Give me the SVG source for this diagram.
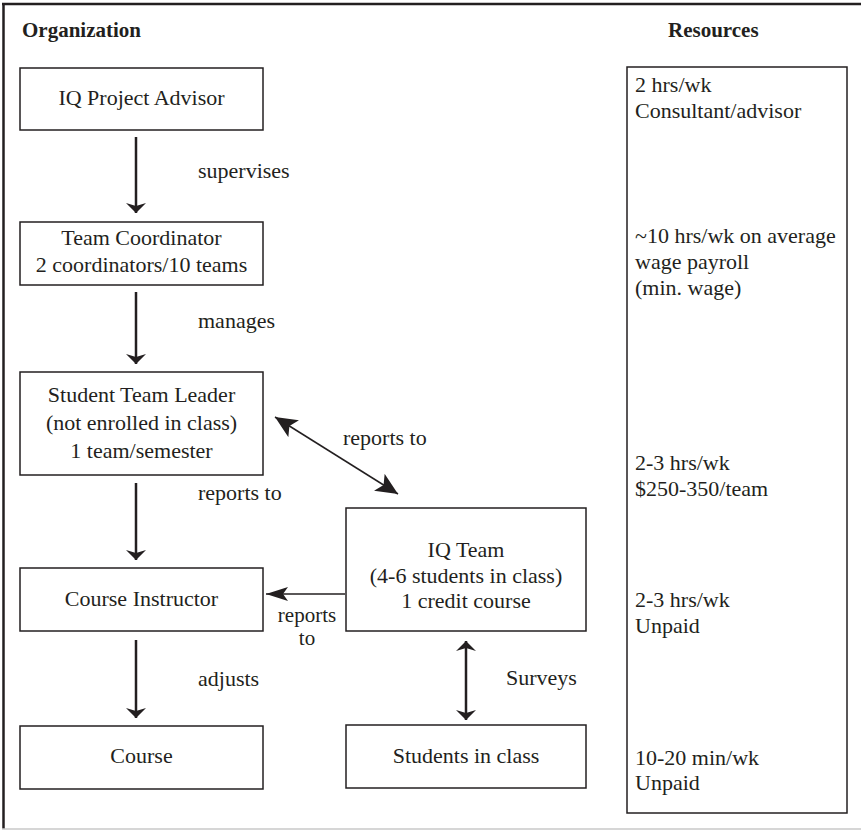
<svg xmlns="http://www.w3.org/2000/svg" width="861" height="830" viewBox="0 0 861 830" font-family="'Liberation Serif', 'DejaVu Serif', serif">
<defs>
<style>
text{font-family:'Liberation Serif','DejaVu Serif',serif;font-size:22px;fill:#231f20}
.b{font-weight:bold;font-size:21px}
.c{text-anchor:middle}
.s{font-size:21px}
.box{fill:#fff;stroke:#231f20;stroke-width:1.5}
.thick{stroke:#231f20;stroke-width:2.5;fill:none}
.thin{stroke:#231f20;stroke-width:1.5;fill:none}
</style>
<marker id="ah" viewBox="0 0 10 20" refX="10" refY="10" markerWidth="10" markerHeight="20" markerUnits="userSpaceOnUse" orient="auto-start-reverse">
<path d="M0,0 L10,10 L0,20 L3,10 Z" fill="#231f20"/>
</marker>
<marker id="aht" viewBox="0 0 22 20" refX="22" refY="10" markerWidth="22" markerHeight="20" markerUnits="userSpaceOnUse" orient="auto-start-reverse">
<path d="M0,0 L22,10 L0,20 L5,10 Z" fill="#231f20"/>
</marker>
<marker id="ahs" viewBox="0 0 22 14" refX="22" refY="7" markerWidth="22" markerHeight="14" markerUnits="userSpaceOnUse" orient="auto-start-reverse">
<path d="M0,0 L22,7 L0,14 L5,7 Z" fill="#231f20"/>
</marker>
</defs>
<rect width="861" height="830" fill="#fff"/>
<g id="frame">
<line x1="3.5" y1="3" x2="3.5" y2="829" stroke="#231f20" stroke-width="2.5"/>
<line x1="2" y1="4" x2="861" y2="4" stroke="#231f20" stroke-width="2.5"/>
<line x1="2" y1="829" x2="861" y2="829" stroke="#c8c8c8" stroke-width="1.5"/>
</g>
<text class="b" x="22" y="37">Organization</text>
<text class="b" x="668" y="37">Resources</text>
<g id="advisor"><rect class="box" x="20" y="68" width="243" height="62"/><text class="c" x="141.5" y="105">IQ Project Advisor</text></g>
<g id="coordinator"><rect class="box" x="20" y="222" width="243" height="63"/><text class="c" x="141.5" y="245">Team Coordinator</text><text class="c" x="141.5" y="272">2 coordinators/10 teams</text></g>
<g id="leader"><rect class="box" x="20" y="372" width="243" height="103"/><text class="c" x="141.5" y="402">Student Team Leader</text><text class="c" x="141.5" y="430">(not enrolled in class)</text><text class="c" x="141.5" y="458">1 team/semester</text></g>
<g id="instructor"><rect class="box" x="20" y="568" width="243" height="63"/><text class="c" x="141.5" y="606">Course Instructor</text></g>
<g id="course"><rect class="box" x="20" y="726" width="243" height="63"/><text class="c" x="141.5" y="763">Course</text></g>
<g id="iqteam"><rect class="box" x="346" y="508" width="240" height="123"/><text class="c" x="466" y="557">IQ Team</text><text class="c" x="466" y="583">(4-6 students in class)</text><text class="c" x="466" y="608">1 credit course</text></g>
<g id="students"><rect class="box" x="346" y="725" width="240" height="63"/><text class="c" x="466" y="763">Students in class</text></g>
<g id="resources"><rect class="box" x="627" y="67" width="220" height="746"/>
<text x="635" y="92">2 hrs/wk</text><text x="635" y="118">Consultant/advisor</text>
<text x="635" y="243">~10 hrs/wk on average</text><text x="635" y="269">wage payroll</text><text x="635" y="295">(min. wage)</text>
<text x="635" y="470">2-3 hrs/wk</text><text x="635" y="496">$250-350/team</text>
<text x="635" y="607">2-3 hrs/wk</text><text x="635" y="633">Unpaid</text>
<text x="635" y="765">10-20 min/wk</text><text x="635" y="790">Unpaid</text>
</g>
<g id="connectors">
<line class="thick" x1="136" y1="137" x2="136" y2="213" marker-end="url(#ah)"/>
<line class="thick" x1="136" y1="292" x2="136" y2="364" marker-end="url(#ah)"/>
<line class="thick" x1="136" y1="483" x2="136" y2="560" marker-end="url(#ah)"/>
<line class="thick" x1="136" y1="640" x2="136" y2="718" marker-end="url(#ah)"/>
<line class="thin" x1="275" y1="417" x2="398" y2="494" marker-start="url(#aht)" marker-end="url(#aht)"/>
<line class="thin" x1="345" y1="594" x2="266" y2="594" marker-end="url(#ahs)"/>
<line class="thick" x1="466" y1="641" x2="466" y2="720" marker-start="url(#ah)" marker-end="url(#ah)"/>
</g>
<g id="labels">
<text x="198" y="178">supervises</text>
<text x="198" y="328">manages</text>
<text x="343" y="445">reports to</text>
<text x="198" y="500">reports to</text>
<text class="c s" x="307" y="622">reports</text>
<text class="c s" x="307" y="645">to</text>
<text x="198" y="686">adjusts</text>
<text x="506" y="685">Surveys</text>
</g>
</svg>
